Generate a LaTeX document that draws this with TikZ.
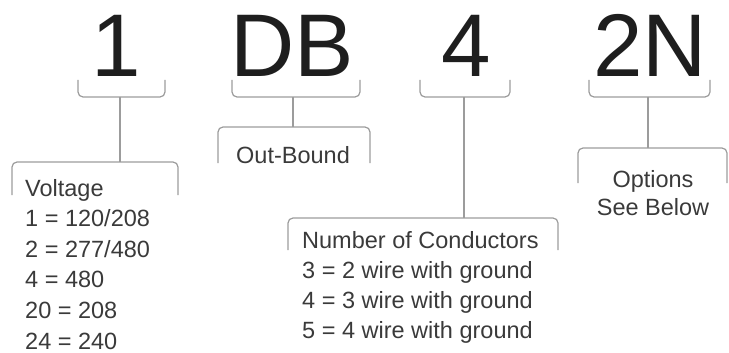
\documentclass[tikz,border=0pt]{standalone}
\usepackage{fontspec}
\setmainfont{Liberation Sans}

\definecolor{codeink}{HTML}{1E1E1E}
\definecolor{textink}{HTML}{3A3A3A}
\definecolor{rulegray}{HTML}{9C9C9C}

\tikzset{
  code/.style={font=\fontsize{89}{89}\selectfont, text=codeink, inner sep=0pt, anchor=base},
  desc/.style={font=\fontsize{23.5}{23.5}\selectfont, text=textink, inner sep=0pt, anchor=base west},
  rule/.style={draw=rulegray, line width=1.2pt, rounded corners=5pt},
}

\begin{document}
\begin{tikzpicture}[x=1pt,y=-1pt]

% ---------- Parameter ----------
\def\brtop{80}
\def\brbot{97}

\useasboundingbox (0,0) rectangle (729,353);

% ===================
% oben: Typenschluessel
% ===================
\node[code] (c1)  at (116,77) {1};
\node[code] (cDB) at (292,77) {DB};
\node[code] (c4)  at (466,77) {4};
\node[code] (c2N) at (650,77) {2N};

% Klammern unter den Zeichen
\draw[rule] (78,\brtop)  -- (78,\brbot)  -- (165,\brbot) -- (165,\brtop);
\draw[rule] (232,\brtop) -- (232,\brbot) -- (360,\brbot) -- (360,\brtop);
\draw[rule] (420,\brtop) -- (420,\brbot) -- (510,\brbot) -- (510,\brtop);
\draw[rule] (589,\brtop) -- (589,\brbot) -- (710,\brbot) -- (710,\brtop);

\coordinate (b1)  at (120,\brbot);
\coordinate (bDB) at (293,\brbot);
\coordinate (b4)  at (464,\brbot);
\coordinate (b2N) at (648,\brbot);

% ===================
% unten: offene Kaesten
% ===================
\draw[rule] (12,195)  -- (12,162)  -- (178,162) -- (178,195);
\draw[rule] (218,163) -- (218,127) -- (370,127) -- (370,163);
\draw[rule] (288,250) -- (288,218) -- (558,218) -- (558,250);
\draw[rule] (578,183) -- (578,148) -- (727,148) -- (727,183);

\coordinate (k1)  at (120,162);
\coordinate (kDB) at (293,127);
\coordinate (k4)  at (464,218);
\coordinate (k2N) at (648,148);

% Verbinder
\draw[rule] (b1)  -- (k1);
\draw[rule] (bDB) -- (kDB);
\draw[rule] (b4)  -- (k4);
\draw[rule] (b2N) -- (k2N);

% Spannung
\node[desc] (volt) at (25,196) {Voltage};
\foreach \txt [count=\i] in {1 = 120/208, 2 = 277/480, 4 = 480, 20 = 208, 24 = 240}
  \node[desc] (volt\i) at (25,{196+30.6*\i}) {\txt};

% Ausfuehrung
\node[desc, anchor=base] (outb) at (293,163) {Out-Bound};

% Leiteranzahl
\node[desc] (cond) at (302,248) {Number of Conductors};
\foreach \txt [count=\i] in {3 = 2 wire with ground, 4 = 3 wire with ground, 5 = 4 wire with ground}
  \node[desc] (cond\i) at (302,{248+30*\i}) {\txt};

% Optionen
\node[desc, anchor=base] (opt)  at (653,187) {Options};
\node[desc, anchor=base] (opt2) at (653,215) {See Below};

\end{tikzpicture}
\end{document}
